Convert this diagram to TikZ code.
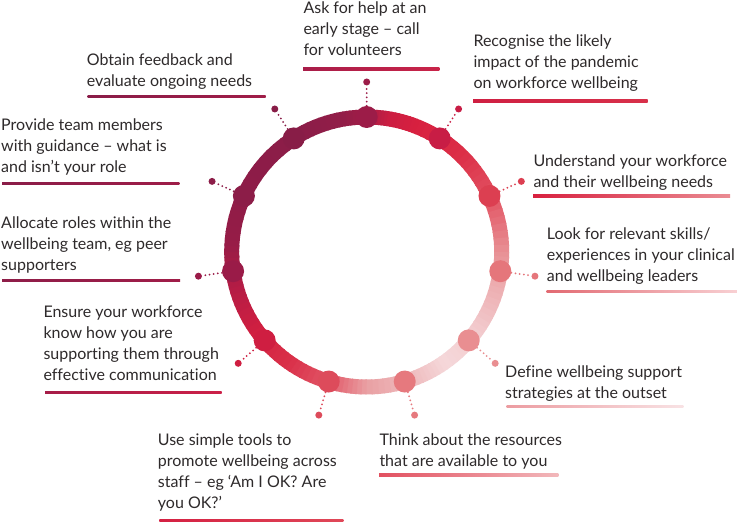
\documentclass[tikz,border=0pt]{standalone}
\usepackage{fontspec}
\setmainfont{Lato}[Ligatures=NoCommon]
\definecolor{txt}{HTML}{2E2A2B}
% ring gradient stops (clockwise from top)
\definecolor{g0}{HTML}{A61D46}
\definecolor{g1}{HTML}{CC1E42}
\definecolor{g2}{HTML}{D8203F}
\definecolor{g3}{HTML}{DC3048}
\definecolor{g4}{HTML}{E25262}
\definecolor{g5}{HTML}{E89094}
\definecolor{g6}{HTML}{EDAEB1}
\definecolor{g7}{HTML}{F2CACD}
\definecolor{g8}{HTML}{F5D8DA}
\definecolor{g9}{HTML}{EFBCBF}
\definecolor{g10}{HTML}{E9A0A3}
\definecolor{g11}{HTML}{E25868}
\definecolor{g12}{HTML}{DA3049}
\definecolor{g13}{HTML}{D01F41}
\definecolor{g14}{HTML}{B41C45}
\definecolor{g15}{HTML}{961C47}
\definecolor{g16}{HTML}{8E1C48}
\definecolor{g17}{HTML}{8B1D48}
\definecolor{g18}{HTML}{921D48}
% bead colours
\definecolor{b0}{HTML}{9C1C48}
\definecolor{b1}{HTML}{C81D45}
\definecolor{b2}{HTML}{DC3F51}
\definecolor{b3}{HTML}{E5767B}
\definecolor{b4}{HTML}{E98E91}
\definecolor{b5}{HTML}{E6797E}
\definecolor{b6}{HTML}{DD4B5B}
\definecolor{b7}{HTML}{CF1E41}
\definecolor{b8}{HTML}{9A1B48}
\definecolor{b9}{HTML}{8C1D48}
\definecolor{b10}{HTML}{881D47}
% underline colours
\definecolor{u0a}{HTML}{A81D49}\definecolor{u0b}{HTML}{C92449}
\definecolor{u1a}{HTML}{CF1F42}\definecolor{u1b}{HTML}{D8304A}
\definecolor{u2a}{HTML}{D8203F}\definecolor{u2b}{HTML}{EA8C93}
\definecolor{u3a}{HTML}{E26A72}\definecolor{u3b}{HTML}{F8D0D3}
\definecolor{u4a}{HTML}{EC9CA1}\definecolor{u4b}{HTML}{F8E2E4}
\definecolor{u5a}{HTML}{E25060}\definecolor{u5b}{HTML}{F2B8BB}
\definecolor{u6a}{HTML}{D42042}\definecolor{u6b}{HTML}{E04858}
\definecolor{u7a}{HTML}{A61D48}\definecolor{u7b}{HTML}{CC2048}
\definecolor{u8a}{HTML}{8E1D48}\definecolor{u8b}{HTML}{A01D48}
\definecolor{u9a}{HTML}{8A1D48}\definecolor{u9b}{HTML}{9E1D48}
\definecolor{u10a}{HTML}{8A1D48}\definecolor{u10b}{HTML}{A01D48}
\begin{document}
\begin{tikzpicture}[x=1pt,y=1pt,
  ringseg/.style={line width=15pt},
  bead/.style={circle, inner sep=0pt, minimum size=22pt},
  tipdot/.style={circle, inner sep=0pt, minimum size=7pt},
  leader/.style={line width=2pt, line cap=round, dash pattern=on 0pt off 4.2pt},
  lbl/.style={anchor=north west, inner sep=0pt, align=left, text=txt,
              font=\fontsize{16}{21}\selectfont}]
\useasboundingbox (0,0) rectangle (737,522);
\fill[white] (0,0) rectangle (737,522);
\coordinate (C) at (366.7,270);

% ---- ring with gradient
\foreach \ta/\tb/\ca/\cb in {0/10/g0/g1, 10/22/g1/g2, 22/45/g2/g3, 45/66/g3/g4,
  66/90/g4/g5, 90/105/g5/g6, 105/125/g6/g7, 125/145/g7/g8, 145/160/g8/g9,
  160/180/g9/g10, 180/196/g10/g11, 196/215/g11/g12, 215/235/g12/g13,
  235/255/g13/g14, 255/275/g14/g15, 275/300/g15/g16, 300/330/g16/g17,
  330/350/g17/g18, 350/361/g18/g0}{
  \foreach \k in {0,...,7}{
    \pgfmathsetmacro\s{90-(\ta+(\tb-\ta)*\k/8)}
    \pgfmathsetmacro\e{90-(\ta+(\tb-\ta)*(\k+1)/8)-0.6}
    \pgfmathtruncatemacro\p{100-100*(\k+0.5)/8}
    \draw[ringseg, draw=\ca!\p!\cb] ([shift={(\s:135pt)}]C)
      arc[start angle=\s, end angle=\e, radius=135pt];
  }
}

% ---- beads, leaders and tip dots
\foreach \i in {0,...,10}{
  \pgfmathsetmacro\ang{90-\i*360/11}
  \node[bead, fill=b\i] (d\i) at ([shift={(\ang:135pt)}]C) {};
  \node[tipdot, fill=b\i] (e\i) at ([shift={(\ang:170pt)}]C) {};
  \draw[leader, draw=b\i] (d\i) -- (e\i);
}

% ---- labels
\node[lbl] (t0) at (303.3,524.0) {\rule{0pt}{15.3pt}Ask for help at an\\early stage – call\\for volunteers};
\node[lbl] (t1) at (473.3,491.3) {\rule{0pt}{15.3pt}Recognise the likely\\impact of the pandemic\\on workforce wellbeing};
\node[lbl] (t2) at (533.3,370.6) {\rule{0pt}{15.3pt}Understand your workforce\\and their wellbeing needs};
\node[lbl] (t3) at (546.7,298.3) {\rule{0pt}{15.3pt}Look for relevant skills/\\experiences in your clinical\\and wellbeing leaders};
\node[lbl] (t4) at (505.0,160.0) {\rule{0pt}{15.3pt}Define wellbeing support\\strategies at the outset};
\node[lbl] (t5) at (379.3,91.6) {\rule{0pt}{15.3pt}Think about the resources\\that are available to you};
\node[lbl] (t6) at (157.7,91.6) {\rule{0pt}{15.3pt}Use simple tools to\\promote wellbeing across\\staff – eg ‘Am I OK? Are\\you OK?’};
\node[lbl] (t7) at (43.3,220.0) {\rule{0pt}{15.3pt}Ensure your workforce\\know how you are\\supporting them through\\effective communication};
\node[lbl] (t8) at (1.0,309.0) {\rule{0pt}{15.3pt}Allocate roles within the\\wellbeing team, eg peer\\supporters};
\node[lbl] (t9) at (1.0,406.6) {\rule{0pt}{15.3pt}Provide team members\\with guidance – what is\\and isn’t your role};
\node[lbl] (t10) at (86.7,472.3) {\rule{0pt}{15.3pt}Obtain feedback and\\evaluate ongoing needs};

% ---- underlines
\foreach \i/\xa/\xb/\yy in {0/303/439.3/453, 1/473/647.7/421, 2/533/730/326,
  3/546.7/737/230.3, 4/506.7/683.3/115.3, 5/379/558.3/47, 6/159.3/343.3/1.3,
  7/45/221.7/129.3, 8/2/180/241.3, 9/2/179.3/338.7, 10/87.7/265.7/425.3}{
  \shade[left color=u\i a, right color=u\i b] (\xa,\yy-1.1) rectangle (\xb,\yy+1.1);
}
\end{tikzpicture}
\end{document}
